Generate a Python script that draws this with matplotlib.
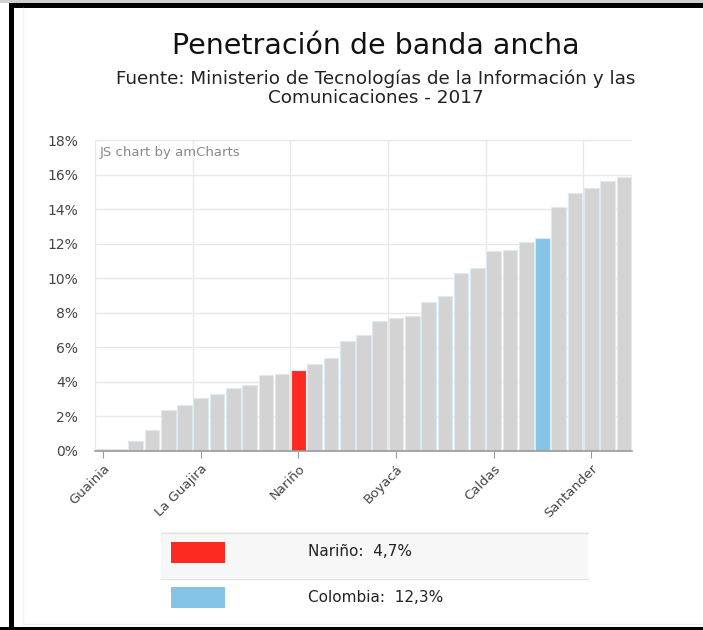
import matplotlib.pyplot as plt
from matplotlib.patches import Rectangle
from matplotlib.lines import Line2D
from matplotlib.ticker import FuncFormatter, MultipleLocator

# penetración de banda ancha por departamento (%), ordenada de menor a mayor
valores = [0.1, 0.1, 0.55, 1.2, 2.4, 2.65, 3.05, 3.3, 3.65, 3.8,
           4.4, 4.45, 4.7, 5.05, 5.4, 6.35, 6.7, 7.55, 7.7, 7.8,
           8.6, 9.0, 10.3, 10.6, 11.6, 11.65, 12.1, 12.3, 14.1, 14.95,
           15.2, 15.65, 15.85]
etiquetas = ["Guainia", "La Guajira", "Nariño", "Boyacá", "Caldas", "Santander"]
pos_etiquetas = [0, 6, 12, 18, 24, 30]
idx_narino = 12
idx_colombia = 27

GRIS = "#d3d3d3"
ROJO = "#fd2a22"
AZUL = "#85c4e4"

W, H = 703, 630


def fx(px):
    return px / W


def fy(py):
    return 1 - py / H


fig = plt.figure(figsize=(W / 100, H / 100), dpi=100)
fig.patch.set_facecolor("white")

# marco
fig.add_artist(Rectangle((0, fy(3)), 1, 3 / H, transform=fig.transFigure,
                         color="#cfcfcf", lw=0))
fig.add_artist(Rectangle((fx(9), fy(7.5)), 1, 4.5 / H, transform=fig.transFigure,
                         color="black", lw=0))
fig.add_artist(Rectangle((fx(9), 0), 4.5 / W, fy(3), transform=fig.transFigure,
                         color="black", lw=0))
fig.add_artist(Rectangle((0, 0), 1, 3.5 / H, transform=fig.transFigure,
                         color="black", lw=0))
fig.add_artist(Line2D([fx(23), fx(23)], [fy(624), fy(8)], transform=fig.transFigure,
                      color="#f0f0f0", lw=1))
fig.add_artist(Line2D([fx(23), 1], [fy(624), fy(624)], transform=fig.transFigure,
                      color="#f0f0f0", lw=1))

fig.text(fx(376), fy(46), "Penetración de banda ancha", ha="center", va="center",
         fontsize=20.5, color="#111111")
fig.text(fx(376), fy(88),
         "Fuente: Ministerio de Tecnologías de la Información y las\nComunicaciones - 2017",
         ha="center", va="center", fontsize=13.2, color="#222222", linespacing=1.05)

ax = fig.add_axes([fx(95), fy(451), fx(632) - fx(95), fy(140) - fy(451)])

n = len(valores)
colores = [GRIS] * n
colores[idx_narino] = ROJO
colores[idx_colombia] = AZUL
ax.bar(range(n), valores, width=0.9, color=colores, edgecolor="#dcebf2",
       linewidth=0.8, zorder=2)

ax.set_xlim(-0.5, n - 0.5)
ax.set_ylim(0, 18)
ax.yaxis.set_major_locator(MultipleLocator(2))
ax.yaxis.set_major_formatter(FuncFormatter(lambda v, p: f"{v:.0f}%"))
ax.grid(axis="y", color="#e8e8e8", lw=1, zorder=0)
for i in range(0, n, 6):
    ax.axvline(i - 0.5, color="#e8e8e8", lw=1, zorder=0)

ax.set_xticks(pos_etiquetas)
ax.set_xticklabels(etiquetas, rotation=45, ha="right", va="top",
                   rotation_mode="anchor", fontsize=9.5, color="#444444")
ax.tick_params(axis="x", length=5, color="#999999", pad=3)
ax.tick_params(axis="y", length=0, labelsize=10, labelcolor="#444444", pad=12)
for s in ["top", "right", "left"]:
    ax.spines[s].set_visible(False)
ax.spines["bottom"].set_color("#999999")
ax.spines["bottom"].set_linewidth(1.2)
ax.spines["bottom"].set_zorder(3)

ax.text(0.009, 0.96, "JS chart by amCharts", transform=ax.transAxes,
        ha="left", va="center", fontsize=9.5, color="#888888")

# tabla de leyenda
fig.add_artist(Rectangle((fx(161), fy(578)), fx(588) - fx(161), 46 / H,
                         transform=fig.transFigure, color="#f7f7f7", lw=0))
for yy in (532.5, 578.5):
    fig.add_artist(Line2D([fx(161), fx(588)], [fy(yy), fy(yy)],
                          transform=fig.transFigure, color="#e2e2e2", lw=1))

filas = [("Nariño", valores[idx_narino], ROJO, 552),
         ("Colombia", valores[idx_colombia], AZUL, 597)]
for nombre, v, c, yc in filas:
    fig.add_artist(Rectangle((fx(171), fy(yc + 10.5)), 54 / W, 21 / H,
                             transform=fig.transFigure, color=c, lw=0))
    txt = f"{nombre}:  {v:.1f}%".replace(".", ",")
    fig.text(fx(308), fy(yc), txt, ha="left", va="center", fontsize=11,
             color="#222222")

fig.savefig("out.png", dpi=100)
